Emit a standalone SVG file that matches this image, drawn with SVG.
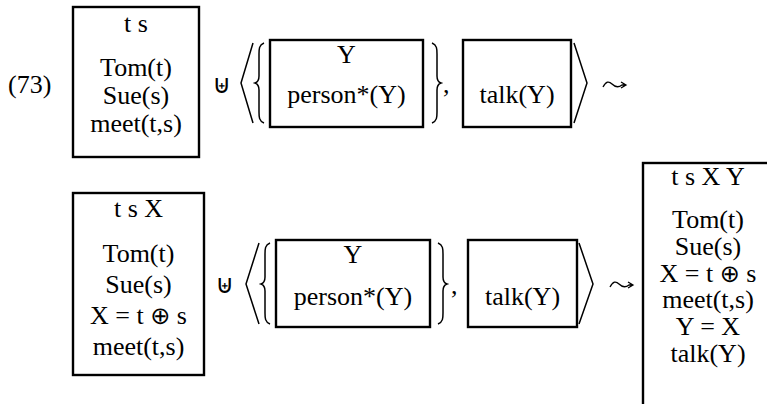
<svg xmlns="http://www.w3.org/2000/svg" width="767" height="404" viewBox="0 0 767 404">
<style>
text{font-family:'Liberation Serif','Times New Roman',Times,'DejaVu Serif',serif;font-size:26px;fill:#000}
.t{text-anchor:middle}
.sym{font-family:'DejaVu Sans',sans-serif;font-size:24px}
.op{font-family:'DejaVu Sans',sans-serif;text-anchor:middle}
.box{fill:none;stroke:#000;stroke-width:2.4}
.br{fill:none;stroke:#000;stroke-width:1.5;stroke-linejoin:miter}
.sq{fill:none;stroke:#000;stroke-width:1.3}
</style>
<rect width="767" height="404" fill="#fff"/>
<text x="8" y="93">(73)</text>

<g id="box1">
<rect class="box" x="73" y="7" width="126" height="150"/>
<text class="t" x="136" y="32">t s</text>
<text class="t" x="136" y="76">Tom(t)</text>
<text class="t" x="136" y="104">Sue(s)</text>
<text class="t" x="136" y="132">meet(t,s)</text>
</g>

<g id="row1-ops">
<text class="op" x="222" y="93" font-size="20">⊎</text>
<path class="br" d="M253,43 L241,83 L253,123"/>
<path class="br" d="M264,43 C259,45 259,49 259,54 L259,76 C259,80 258,82 255,83 C258,84 259,86 259,90 L259,112 C259,117 259,121 264,123"/>
<path class="br" d="M432,43 C437,45 437,49 437,54 L437,76 C437,80 438,82 441,83 C438,84 437,86 437,90 L437,112 C437,117 437,121 432,123"/>
<text x="443" y="93">,</text>
<path class="br" d="M574,43 L587,83 L574,123"/>
<path class="sq" d="M603,87 C606,81 609,81 612,84 C615,87 618,88 622,85 L626,85 M621,82 L626,85 L621,88"/>
</g>

<g id="box-person1">
<rect class="box" x="270" y="40" width="153" height="87"/>
<text class="t" x="346.5" y="63">Y</text>
<text class="t" x="346.5" y="103">person*(Y)</text>
</g>

<g id="box-talk1">
<rect class="box" x="463" y="40" width="108" height="87"/>
<text class="t" x="517" y="103">talk(Y)</text>
</g>

<g id="box2">
<rect class="box" x="73" y="193" width="131" height="182"/>
<text class="t" x="138.5" y="217">t s X</text>
<text class="t" x="138.5" y="262">Tom(t)</text>
<text class="t" x="138.5" y="293">Sue(s)</text>
<text class="t" x="138.5" y="324">X = t <tspan class="sym">⊕</tspan> s</text>
<text class="t" x="138.5" y="355">meet(t,s)</text>
</g>

<g id="row2-ops">
<text class="op" x="225" y="293" font-size="20">⊎</text>
<path class="br" d="M259,243 L246,284 L259,324"/>
<path class="br" d="M270,243 C265,245 265,249 265,254 L265,277 C265,281 264,283 261,284 C264,285 265,287 265,291 L265,313 C265,318 265,322 270,324"/>
<path class="br" d="M438,243 C443,245 443,249 443,254 L443,277 C443,281 444,283 447,284 C444,285 443,287 443,291 L443,313 C443,318 443,322 438,324"/>
<text x="451" y="294">,</text>
<path class="br" d="M579,243 L593,284 L579,324"/>
<path class="sq" d="M610,287 C613,281 616,281 619,284 C622,287 625,288 629,285 L633,285 M628,282 L633,285 L628,288"/>
</g>

<g id="box-person2">
<rect class="box" x="276" y="240" width="154" height="87"/>
<text class="t" x="353" y="263">Y</text>
<text class="t" x="353" y="305">person*(Y)</text>
</g>

<g id="box-talk2">
<rect class="box" x="468" y="240" width="109" height="87"/>
<text class="t" x="522.5" y="305">talk(Y)</text>
</g>

<g id="box3">
<rect class="box" x="643" y="163" width="140" height="260"/>
<text class="t" x="708" y="185">t s X Y</text>
<text class="t" x="708" y="228">Tom(t)</text>
<text class="t" x="708" y="255">Sue(s)</text>
<text class="t" x="708" y="282">X = t <tspan class="sym">⊕</tspan> s</text>
<text class="t" x="708" y="308">meet(t,s)</text>
<text class="t" x="708" y="335">Y = X</text>
<text class="t" x="708" y="362">talk(Y)</text>
</g>
</svg>
